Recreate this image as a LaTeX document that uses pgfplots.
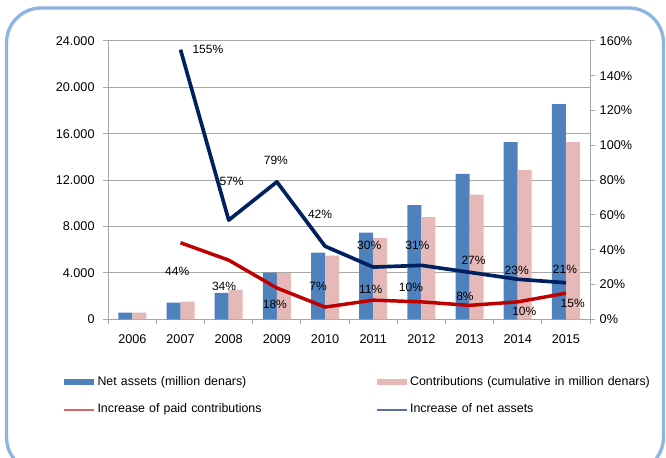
\documentclass[border=0pt]{standalone}
\usepackage{pgfplots}
\pgfplotsset{compat=1.18}
\usepackage{pgfplotstable}
\usepackage{fontspec}
\setmainfont{Liberation Sans}
\definecolor{barblue}{RGB}{79,129,189}
\definecolor{barpink}{RGB}{230,185,184}
\definecolor{navyline}{RGB}{0,32,96}
\definecolor{redline}{RGB}{192,0,0}
\definecolor{frameblue}{RGB}{141,180,226}
\definecolor{gridgray}{RGB}{166,166,166}
\definecolor{legred}{RGB}{222,100,100}
\definecolor{legnavy}{RGB}{90,110,160}
\pgfplotsset{/pgf/number format/assume math mode=true,
  redlegimg/.style={legend image code/.code={\draw[legred, line width=1.2pt] (0pt,0pt) -- (22.5pt,0pt);}},
  navylegimg/.style={legend image code/.code={\draw[legnavy, line width=1.2pt] (0pt,0pt) -- (22.5pt,0pt);}},
  bluelegimg/.style={legend image code/.code={\fill[barblue] (0pt,-2.25pt) rectangle (22.5pt,2.25pt);}},
  pinklegimg/.style={legend image code/.code={\fill[barpink] (0pt,-2.25pt) rectangle (22.5pt,2.25pt);}},
}

\pgfplotstableread{
x year net contrib
0 2006 570 570
1 2007 1430 1520
2 2008 2270 2550
3 2009 4020 4000
4 2010 5740 5480
5 2011 7470 7010
6 2012 9850 8820
7 2013 12530 10740
8 2014 15280 12870
9 2015 18560 15280
}\bars

\pgfplotstableread{
x inc dx dy
1 155 20.5 0
2 57 2.2 28.9
3 79 -0.75 16.5
4 42 -3.75 24
5 30 -3 16.5
6 31 -3 15
7 27 3 9
8 23 -0.75 6.5
9 21 -0.75 9.75
}\navyinc

\pgfplotstableread{
x inc dx dy
1 44 -2.5 -21.75
2 34 -3.5 -19.9
3 18 -1.5 -12
4 7 -5.25 15.75
5 11 -1.9 8.25
6 10 -7.8 11
7 8 -3.45 7
8 10 4.9 -7.35
9 15 5.1 -7.35
}\redinc

\begin{document}
\begin{tikzpicture}
\useasboundingbox (0,0) rectangle (499.5pt,342.75pt);
\clip (0,0) rectangle (499.5pt,342.75pt);
\draw[frameblue, line width=2.5pt, rounded corners=26pt] (4.9pt,-11.25pt) rectangle (497.6pt,336.75pt);

\begin{axis}[
  at={(81.2pt,103.3pt)}, anchor=south west, scale only axis,
  width=361.3pt, height=208.7pt,
  xmin=-0.5, xmax=9.5, ymin=0, ymax=24000,
  axis x line*=bottom, axis y line*=left,
  ytick={0,4000,8000,12000,16000,20000,24000},
  scaled y ticks=false,
  yticklabel style={/pgf/number format/1000 sep={.}, xshift=-3pt},
  xtick={0,1,2,3,4,5,6,7,8,9},
  xticklabels={2006,2007,2008,2009,2010,2011,2012,2013,2014,2015},
  xticklabel style={yshift=-4.5pt},
  minor xtick={-0.5,0.5,1.5,2.5,3.5,4.5,5.5,6.5,7.5,8.5,9.5},
  major x tick style={draw=none},
  tick align=outside, major tick length=3.75pt, minor tick length=3.75pt,
  ymajorgrids, grid style={gridgray, line width=0.75pt},
  axis line style={gridgray, line width=0.75pt},
  tick style={gridgray, line width=0.75pt},
  tick label style={font=\fontsize{9.5}{11}\selectfont, text=black},
  legend columns=2,
  legend cell align=left,
  legend style={draw=none, fill=none, inner sep=0pt, outer sep=0pt,
    at={(-0.0934,-0.2034)}, anchor=north west,
    font=\fontsize{9.3}{11}\selectfont,
    column sep=0pt, row sep=11.2pt,
    /tikz/every odd column/.append style={column sep=2pt},
    nodes={inner sep=0pt, text height=7pt, text depth=2.5pt, text width=208.7pt, align=left}},
]
\addplot[ybar, bar width=10.5pt, bar shift=-5.25pt, fill=barblue, draw=none, bluelegimg]
  table[x=x, y=net]{\bars};
\addlegendentry{Net assets (million denars)}
\addplot[ybar, bar width=10.5pt, bar shift=5.25pt, fill=barpink, draw=none, pinklegimg]
  table[x=x, y=contrib]{\bars};
\addlegendentry{Contributions (cumulative in million denars)}
\addlegendimage{redlegimg}
\addlegendentry{Increase of paid contributions}
\addlegendimage{navylegimg}
\addlegendentry{Increase of net assets}
\end{axis}

\begin{axis}[
  at={(81.2pt,103.3pt)}, anchor=south west, scale only axis,
  width=361.3pt, height=208.7pt,
  xmin=-0.5, xmax=9.5, ymin=0, ymax=160,
  axis x line=none, axis y line*=right,
  ytick={0,20,40,60,80,100,120,140,160},
  yticklabel={\pgfmathprintnumber{\tick}\%},
  tick align=outside, major tick length=3.75pt,
  axis line style={gridgray, line width=0.75pt},
  tick style={gridgray, line width=0.75pt},
  tick label style={font=\fontsize{9.5}{11}\selectfont, text=black},
  point meta=y,
  nodes near coords={\pgfmathprintnumber{\pgfplotspointmeta}\%},
  visualization depends on={\thisrow{dx}\as\dx},
  visualization depends on={\thisrow{dy}\as\dy},
  nodes near coords style={anchor=center, xshift=\dx*1pt, yshift=\dy*1pt,
    font=\fontsize{9}{11}\selectfont, text=black},
]
\addplot[draw=redline, line width=2.6pt, line join=round, mark=none] table[x=x, y=inc]{\redinc};
\addplot[draw=navyline, line width=2.75pt, line join=round, mark=none] table[x=x, y=inc]{\navyinc};
\end{axis}
\end{tikzpicture}
\end{document}
